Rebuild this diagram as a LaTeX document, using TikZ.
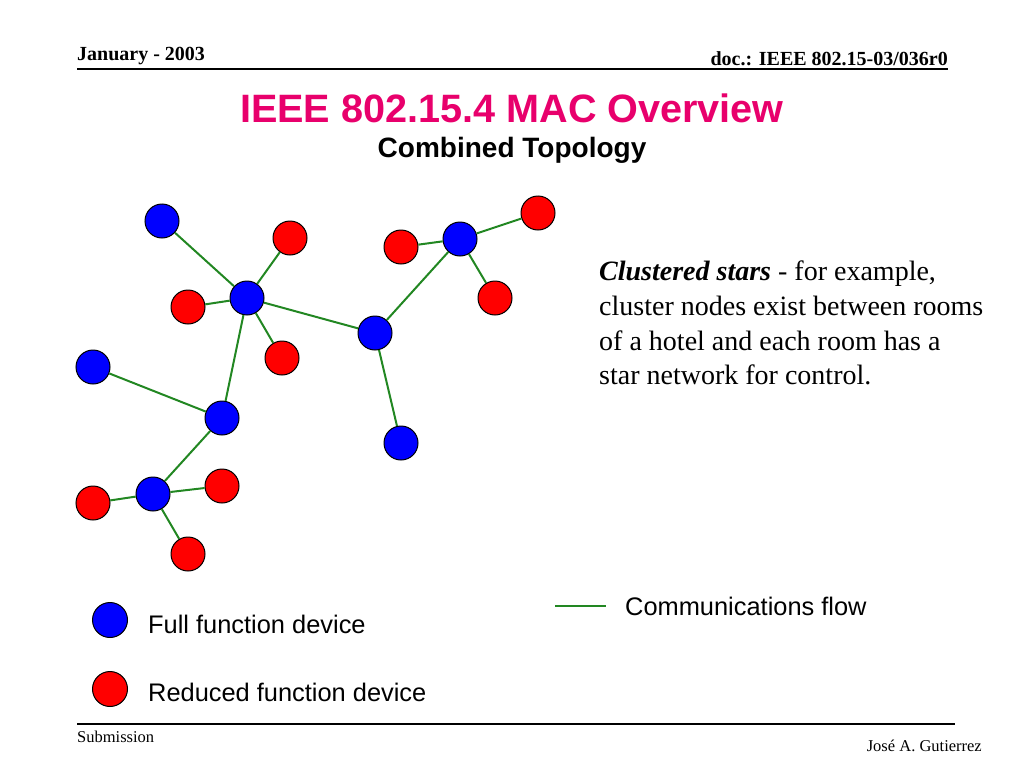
\documentclass[tikz,border=0pt]{standalone}
\usepackage{fontspec}
\setmainfont{Liberation Serif}
\setsansfont{Liberation Sans}
\usetikzlibrary{positioning}
\definecolor{titlered}{RGB}{232,0,108}
\definecolor{flowgreen}{RGB}{34,135,34}

\begin{document}
\begin{tikzpicture}[x=1pt,y=-1pt,
  ffd/.style={circle, draw=black, line width=1pt, fill=blue, minimum size=34pt, inner sep=0pt},
  rfd/.style={ffd, fill=red},
  flow/.style={draw=flowgreen, line width=2pt},
  serif/.style={inner sep=0pt, font=\fontsize{28}{34}\selectfont},
  keytext/.style={anchor=base west, inner sep=0pt, font=\sffamily\fontsize{25.4}{28}\selectfont}]
\useasboundingbox (0,0) rectangle (1024,768);

% header and footer
\node[anchor=base west, inner sep=0pt, font=\bfseries\fontsize{20}{22}\selectfont] (date) at (77,60) {January - 2003};
\node[anchor=base east, inner sep=0pt, font=\bfseries\fontsize{20}{22}\selectfont] (doc) at (948,65) {doc.: IEEE 802.15-03/036r0};
\draw[line width=2pt] (77,69) -- (948,69);
\draw[line width=1.5pt] (77,724) -- (955,724);
\node[anchor=base west, inner sep=0pt, font=\fontsize{16.5}{18}\selectfont] (sub) at (77,742) {Submission};
\node[anchor=base east, inner sep=0pt, font=\fontsize{16.5}{18}\selectfont] (author) at (982,751) {José A. Gutierrez};

% title
\node[anchor=base, inner sep=0pt, text=titlered, font=\sffamily\bfseries\fontsize{39.6}{42}\selectfont] (title) at (512,122) {IEEE 802.15.4 MAC Overview};
\node[anchor=base, inner sep=0pt, font=\sffamily\bfseries\fontsize{28}{30}\selectfont] (subtitle) at (512,157) {Combined Topology};

% full function devices
\node[ffd] (hubA) at (247,298) {};
\node[ffd] (hubB) at (375,333) {};
\node[ffd] (hubC) at (460,239) {};
\node[ffd] (hubD) at (222,418) {};
\node[ffd] (hubE) at (153,494) {};
\node[ffd] (leafA) at (162,221) {};
\node[ffd] (leafB) at (93,367) {};
\node[ffd] (leafC) at (401,443) {};

% reduced function devices
\node[rfd] (rA1) at (290,238) {};
\node[rfd] (rA2) at (188,307) {};
\node[rfd] (rA3) at (282,358) {};
\node[rfd] (rC1) at (401,247) {};
\node[rfd] (rC2) at (538,213) {};
\node[rfd] (rC3) at (495,298) {};
\node[rfd] (rE1) at (222,486) {};
\node[rfd] (rE2) at (93,503) {};
\node[rfd] (rE3) at (188,554) {};

% links
\draw[flow] (leafA) -- (hubA);
\draw[flow] (rA1) -- (hubA);
\draw[flow] (rA2) -- (hubA);
\draw[flow] (rA3) -- (hubA);
\draw[flow] (hubA) -- (hubB);
\draw[flow] (hubA) -- (hubD);
\draw[flow] (hubB) -- (hubC);
\draw[flow] (hubB) -- (leafC);
\draw[flow] (hubC) -- (rC1);
\draw[flow] (hubC) -- (rC2);
\draw[flow] (hubC) -- (rC3);
\draw[flow] (leafB) -- (hubD);
\draw[flow] (hubD) -- (hubE);
\draw[flow] (hubE) -- (rE1);
\draw[flow] (hubE) -- (rE2);
\draw[flow] (hubE) -- (rE3);

% text
\node[serif, anchor=base west] (line1) at (599,280) {\textbf{\textit{Clustered stars}} - for example,};
\node[serif, anchor=base west] (line2) at (599,315) {cluster nodes exist between rooms};
\node[serif, anchor=base west] (line3) at (599,350) {of a hotel and each room has a};
\node[serif, anchor=base west] (line4) at (599,384) {star network for control.};

% legend
\node[ffd, minimum size=35pt] (keyffd) at (110,620) {};
\node[keytext] (keyffdtext) at (148,633) {Full function device};
\node[rfd, minimum size=35pt] (keyrfd) at (110,689) {};
\node[keytext] (keyrfdtext) at (148,701) {Reduced function device};
\coordinate (keyflowA) at (555,606);
\coordinate (keyflowB) at (606,606);
\draw[flow] (keyflowA) -- (keyflowB);
\node[keytext] (keyflowtext) at (625,615) {Communications flow};
\end{tikzpicture}
\end{document}
